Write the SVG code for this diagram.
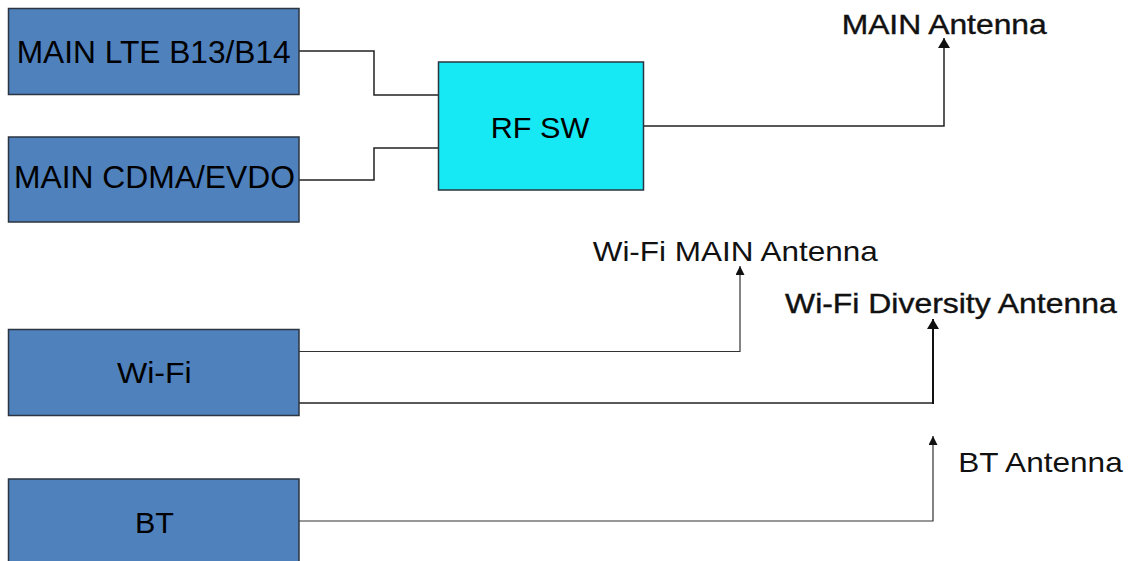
<svg xmlns="http://www.w3.org/2000/svg" width="1130" height="561" viewBox="0 0 1130 561">
  <style>
    .blk { fill: #4f81bd; stroke: #2b3440; stroke-width: 1.5; }
    .sw { fill: #16e8f4; stroke: #2b3440; stroke-width: 1.5; }
    .lbl { font-family: "Liberation Sans", Arial, sans-serif; fill: #000; }
    .ant { font-family: "Liberation Sans", Arial, sans-serif; fill: #111; }
    .wire { fill: none; stroke: #222; stroke-width: 1.5; }
    .thin { stroke: #333; stroke-width: 1.2; }
    .bold { stroke: #111; stroke-width: 2; }
  </style>
  <defs>
    <marker id="arrow" viewBox="0 0 10 12" refX="10" refY="6" markerWidth="10" markerHeight="12" markerUnits="userSpaceOnUse" orient="auto">
      <path d="M0,0 L10,6 L0,12 Z" fill="#111"/>
    </marker>
    <marker id="arrowSm" viewBox="0 0 10 10" refX="10" refY="5" markerWidth="9" markerHeight="9" markerUnits="userSpaceOnUse" orient="auto">
      <path d="M0,0 L10,5 L0,10 Z" fill="#111"/>
    </marker>
  </defs>

  <!-- connectors -->
  <g id="connectors">
    <path class="wire" d="M299,51 H374 V95 H438"/>
    <path class="wire" d="M299,180 H374 V148 H438"/>
    <path class="wire" d="M643,126 H944 V38" marker-end="url(#arrow)"/>
    <path class="wire thin" d="M299,351.5 H740 V266" marker-end="url(#arrowSm)"/>
    <path class="wire" d="M299,403 H933"/>
    <path class="wire bold" d="M933,404 V319" marker-end="url(#arrow)"/>
    <path class="wire thin" d="M299,521 H933 V436" marker-end="url(#arrowSm)"/>
  </g>

  <!-- transceiver blocks -->
  <g id="main-lte">
    <rect class="blk" x="8.5" y="8.5" width="290.5" height="86"/>
    <text class="lbl" x="16.7" y="63.3" font-size="31" textLength="274" lengthAdjust="spacingAndGlyphs">MAIN LTE B13/B14</text>
  </g>
  <g id="main-cdma">
    <rect class="blk" x="8.5" y="137" width="290.5" height="85"/>
    <text class="lbl" x="14" y="188.3" font-size="31" textLength="281" lengthAdjust="spacingAndGlyphs">MAIN CDMA/EVDO</text>
  </g>
  <g id="rf-sw">
    <rect class="sw" x="438.5" y="62" width="205" height="128"/>
    <text class="lbl" x="490.7" y="138" font-size="29.5" textLength="98.6" lengthAdjust="spacingAndGlyphs">RF SW</text>
  </g>
  <g id="wifi">
    <rect class="blk" x="8.5" y="329.5" width="290.5" height="86"/>
    <text class="lbl" x="117" y="383.3" font-size="30" textLength="74.7" lengthAdjust="spacingAndGlyphs">Wi-Fi</text>
  </g>
  <g id="bt">
    <rect class="blk" x="8.5" y="479" width="290.5" height="92"/>
    <text class="lbl" x="135" y="533.3" font-size="30" textLength="39" lengthAdjust="spacingAndGlyphs">BT</text>
  </g>

  <!-- antennas -->
  <g id="main-antenna">
    <text class="ant" x="841.7" y="34.3" font-size="28" textLength="205" lengthAdjust="spacingAndGlyphs" stroke="#111" stroke-width="0.4">MAIN Antenna</text>
  </g>
  <g id="wifi-main-antenna">
    <text class="ant" x="592.7" y="260.7" font-size="28" textLength="285" lengthAdjust="spacingAndGlyphs" fill="#2a2a2a">Wi-Fi MAIN Antenna</text>
  </g>
  <g id="wifi-diversity-antenna">
    <text class="ant" x="785" y="313.3" font-size="28" textLength="331.7" lengthAdjust="spacingAndGlyphs" stroke="#111" stroke-width="0.4">Wi-Fi Diversity Antenna</text>
  </g>
  <g id="bt-antenna">
    <text class="ant" x="958.3" y="471.7" font-size="28" textLength="164.4" lengthAdjust="spacingAndGlyphs">BT Antenna</text>
  </g>
</svg>
